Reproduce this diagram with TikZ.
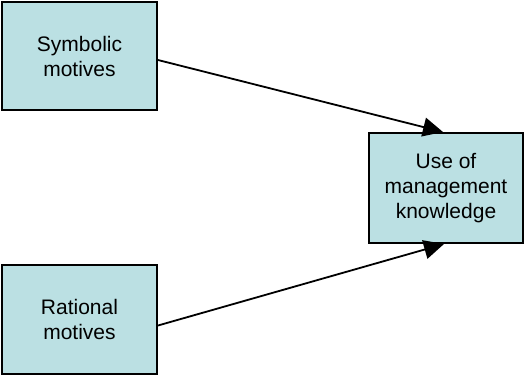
\documentclass[tikz,border=0pt]{standalone}
\usepackage{fontspec}
\setmainfont{Liberation Sans}
\usetikzlibrary{arrows.meta}
\definecolor{boxfill}{RGB}{187,224,227}
\begin{document}
\begin{tikzpicture}[x=1pt,y=-1pt,
  factor/.style={draw=black,line width=2pt,fill=boxfill,rectangle,
    align=center,inner sep=0pt,font=\fontsize{21}{25}\selectfont},
  link/.style={line width=1.8pt,-{Triangle[length=20pt,width=19pt]}}]
  \useasboundingbox (0,0) rectangle (525,376);
  \node[factor,minimum width=155pt,minimum height=108pt] (sym) at (79.5,56) {Symbolic\\motives};
  \node[factor,minimum width=155pt,minimum height=109pt] (rat) at (79.5,319.5) {Rational\\motives};
  \node[factor,minimum width=154pt,minimum height=110pt] (use) at (446,188) {Use of\\management\\knowledge};
  \draw[link] ([yshift=-4pt]sym.east) -- ([xshift=-3pt]use.north);
  \draw[link] ([yshift=-6pt]rat.east) -- ([xshift=-2pt]use.south);
\end{tikzpicture}
\end{document}
